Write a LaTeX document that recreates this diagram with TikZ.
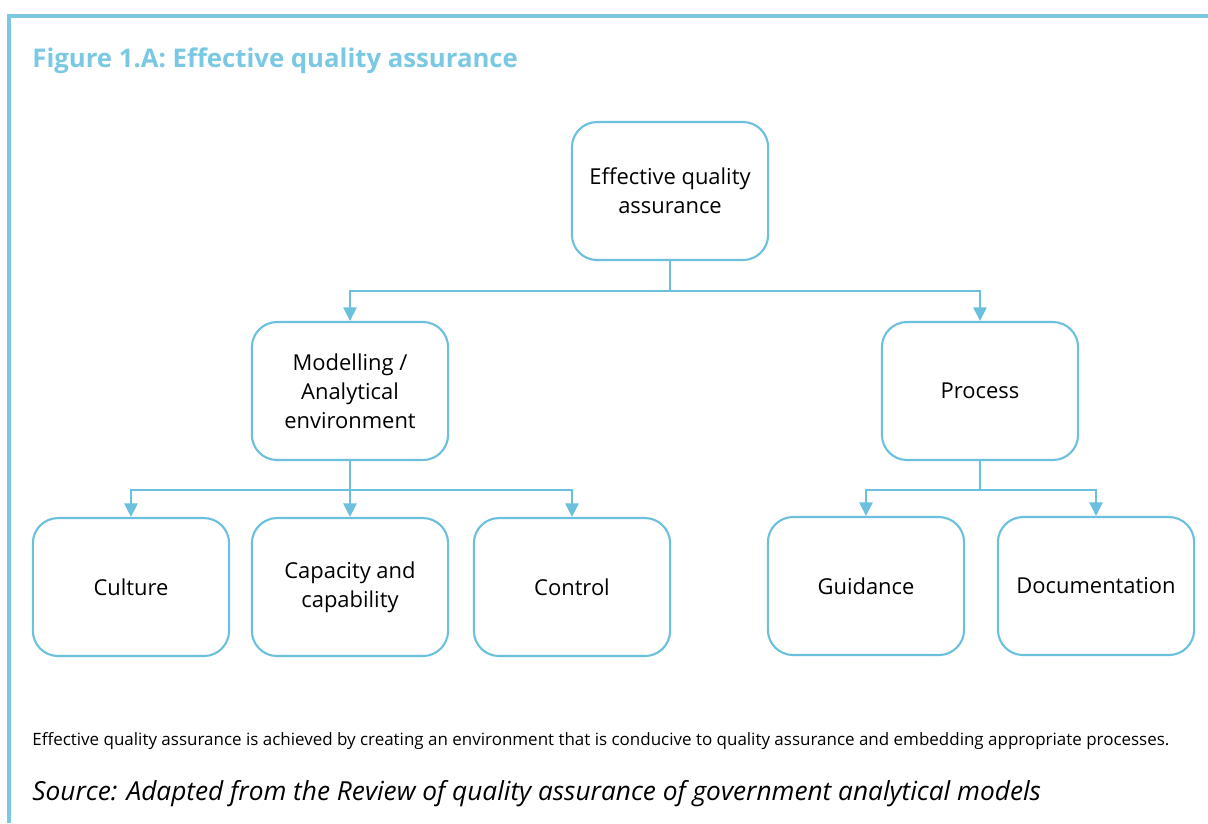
\documentclass[tikz,border=0pt]{standalone}
\usepackage{fontspec}
\setmainfont{Open Sans}
\usepackage{xcolor}
\usetikzlibrary{arrows.meta, positioning, calc}

\definecolor{qablue}{RGB}{107,192,222}
\definecolor{qatitle}{RGB}{122,200,226}

\begin{document}
\begin{tikzpicture}[
  qabox/.style={rectangle, rounded corners=0.42cm, draw=qablue, line width=1pt, minimum width=3.27cm, minimum height=2.3cm, align=center, inner sep=2pt, font=\fontsize{10.4}{13.8}\selectfont},
  qaarrow/.style={-{Triangle[width=6.2pt,length=6.4pt]}, draw=qablue, line width=1pt}
]
\useasboundingbox (0,0) rectangle (20.133,13.717);
\draw[qatitle, line width=1.5pt] (0.15,0) -- (0.15,13.45) -- (20.133,13.45);

\node[anchor=base west, inner sep=0pt, text=qatitle, font=\bfseries\fontsize{12.2}{15}\selectfont] (title) at (0.533,12.6) {Figure 1.A: Effective quality assurance};

\node[qabox] (top) at (11.167,10.533) {Effective quality\\assurance};
\node[qabox] (model) at (5.833,7.2) {Modelling /\\Analytical\\environment};
\node[qabox] (process) at (16.333,7.2) {Process};
\node[qabox] (culture) at (2.183,3.933) {Culture};
\node[qabox] (capacity) at (5.833,3.933) {Capacity and\\capability};
\node[qabox] (control) at (9.533,3.933) {Control};
\node[qabox] (guidance) at (14.433,3.95) {Guidance};
\node[qabox] (docs) at (18.267,3.95) {Documentation};

\draw[qaarrow] (top.south) -- ++(0,-0.5) -| (model.north);
\draw[qaarrow] (top.south) -- ++(0,-0.5) -| (process.north);
\draw[qaarrow] (model.south) -- ++(0,-0.48) -| (culture.north);
\draw[qaarrow] (model.south) -- (capacity.north);
\draw[qaarrow] (model.south) -- ++(0,-0.48) -| (control.north);
\draw[qaarrow] (process.south) -- ++(0,-0.48) -| (guidance.north);
\draw[qaarrow] (process.south) -- ++(0,-0.48) -| (docs.north);

\node[anchor=base west, inner sep=0pt, font=\fontsize{8.05}{9}\selectfont] (note) at (0.533,1.3) {Effective quality assurance is achieved by creating an environment that is conducive to quality assurance and embedding appropriate processes.};
\node[anchor=base west, inner sep=0pt, font=\itshape\fontsize{12.45}{15}\selectfont] (source) at (0.533,0.383) {Source: Adapted from the Review of quality assurance of government analytical models};
\end{tikzpicture}
\end{document}
